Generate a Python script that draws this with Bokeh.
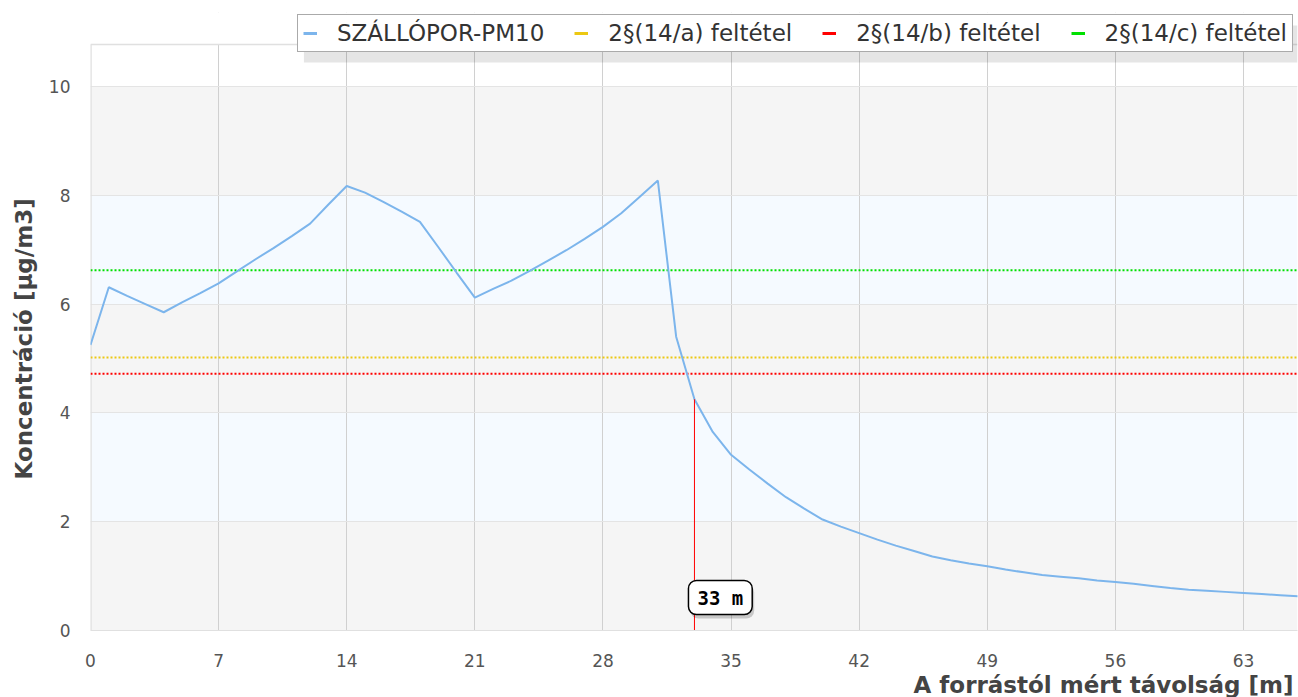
from bokeh.plotting import figure
from bokeh.models import (Range1d, FixedTicker, Legend, LegendItem, Label, BoxAnnotation, Title)
from bokeh.embed import file_html
from bokeh.resources import INLINE

# ---------------- data ----------------
dist = list(range(0, 67))
conc = [5.25, 6.31, 6.15, 6.00, 5.85, 6.03, 6.20, 6.38, 6.60, 6.82,
        7.03, 7.25, 7.48, 7.83, 8.17, 8.05, 7.88, 7.70, 7.51, 7.05,
        6.58, 6.12, 6.28, 6.43, 6.61, 6.80, 6.99, 7.20, 7.42, 7.67,
        7.97, 8.27, 5.40, 4.25, 3.65, 3.23, 2.96, 2.70, 2.45, 2.24,
        2.04, 1.91, 1.79, 1.67, 1.56, 1.46, 1.36, 1.29, 1.23, 1.18,
        1.12, 1.07, 1.02, 0.99, 0.96, 0.92, 0.89, 0.86, 0.82, 0.78,
        0.75, 0.73, 0.71, 0.69, 0.67, 0.65, 0.63]
series_name = "SZÁLLÓPOR-PM10"
limit_names = ["2§(14/a) feltétel", "2§(14/b) feltétel", "2§(14/c) feltétel"]
limit_values = [5.02, 4.72, 6.62]
cross_dist = 33
x_ticks = [0, 7, 14, 21, 28, 35, 42, 49, 56, 63]
y_ticks = [0, 2, 4, 6, 8, 10]
band_gray_bottom = [0, 4, 8]
band_gray_top = [2, 6, 10]
band_blue_bottom = [2, 6]
band_blue_top = [4, 8]
x_label = "A forrástól mért távolság [m]"
y_label = "Koncentráció [µg/m3]"

# ---------------- style ----------------
FONT = "DejaVu Sans"
line_color = "#7cb5ec"
limit_colors = ["#ecc812", "#ff0000", "#00e000"]
X_END = 65.95
Y_TOP = 10.77     # visible top of the plot area
Y_END = 11.36     # extra room above for the legend
BORDER = "#e0e0e0"

p = figure(width=1298, height=697, output_backend="svg", toolbar_location=None,
           x_range=Range1d(0, X_END), y_range=Range1d(0, Y_END),
           min_border_left=89, min_border_right=1, min_border_top=12,
           min_border_bottom=66)
p.background_fill_color = "white"
p.border_fill_color = "white"
p.outline_line_color = None

# bands
p.quad(left=0, right=X_END, bottom=band_gray_bottom, top=band_gray_top,
       fill_color="#f5f5f5", line_color=None, level="underlay")
p.quad(left=0, right=X_END, bottom=band_blue_bottom, top=band_blue_top,
       fill_color="#f5faff", line_color=None, level="underlay")

# grid
p.xgrid.ticker = FixedTicker(ticks=x_ticks)
p.ygrid.ticker = FixedTicker(ticks=y_ticks)
p.xgrid.grid_line_color = "#d0d0d0"
p.ygrid.grid_line_color = "#e4e4e4"

# white area above plot top (hides grid), borders
p.quad(left=0, right=X_END, bottom=Y_TOP, top=Y_END, fill_color="white",
       line_color=None)
p.line(x=[0, X_END], y=[Y_TOP, Y_TOP], line_color=BORDER, line_width=1.5)
p.line(x=[0, 0], y=[0, Y_TOP], line_color=BORDER, line_width=2.5)

# axes
for ax in (p.xaxis[0], p.yaxis[0]):
    ax.axis_line_color = None
    ax.major_tick_line_color = None
    ax.minor_tick_line_color = None
    ax.major_label_text_font = FONT
    ax.major_label_text_font_size = "17px"
    ax.major_label_text_color = "#555555"
p.xaxis.axis_line_color = BORDER
p.xaxis.ticker = FixedTicker(ticks=x_ticks)
p.yaxis.ticker = FixedTicker(ticks=y_ticks)
p.xaxis.major_label_standoff = 17
p.yaxis.major_label_standoff = 14

# y-axis title (offset from the bottom so it centres on the visible plot area)
p.add_layout(Title(text=y_label, align="left", text_font=FONT,
                   text_font_style="bold", text_font_size="23px",
                   text_color="#444444", standoff=17, offset=151), "left")

# x-axis title, right aligned
p.add_layout(Title(text=x_label, align="right", text_font=FONT,
                   text_font_style="bold", text_font_size="23px",
                   text_color="#444444", standoff=0, offset=4), "below")

# limit lines
limit_renderers = []
for name, val, col in zip(limit_names, limit_values, limit_colors):
    p.line(x=[dist[0], dist[-1]], y=[val, val], line_color=col,
           line_width=2, line_dash="2 2")
    # solid single-point twin (draws nothing) used only for the legend swatch
    r = p.line(x=[dist[0]], y=[val], line_color=col, line_width=3)
    limit_renderers.append(r)

# main curve
main_r = p.line(x=dist, y=conc, line_color=line_color, line_width=2)
main_leg = p.line(x=[dist[0]], y=[conc[0]], line_color=line_color, line_width=3)

# vertical marker
idx = dist.index(cross_dist)
p.segment(x0=[cross_dist], y0=[0], x1=[cross_dist], y1=[conc[idx]],
          line_color="#ff0000", line_width=1)

# marker label with shadow
lab_text = f"{cross_dist} m"
shadow = Label(x=cross_dist, y=0, x_offset=-4, y_offset=29, text=lab_text,
               text_font="DejaVu Sans Mono", text_font_style="bold",
               text_font_size="19px", text_color="rgba(0,0,0,0)",
               text_baseline="middle", text_align="left",
               background_fill_color="#000000", background_fill_alpha=0.18,
               border_radius=8, padding=(9, 6))
p.add_layout(shadow)
lab = Label(x=cross_dist, y=0, x_offset=-6, y_offset=33, text=lab_text,
            text_font="DejaVu Sans Mono", text_font_style="bold",
            text_font_size="19px", text_color="#000000",
            text_baseline="middle", text_align="left",
            background_fill_color="white", border_line_color="#000000",
            border_line_width=1.5, border_radius=8, padding=(9, 6))
p.add_layout(lab)

# legend shadow
p.add_layout(BoxAnnotation(left=11.66, right=X_END, top=11.12, bottom=10.44,
                           fill_color="#000000", fill_alpha=0.10,
                           line_color=None))

items = [LegendItem(label=series_name, renderers=[main_leg])]
for name, r in zip(limit_names, limit_renderers):
    items.append(LegendItem(label=name, renderers=[r]))
legend = Legend(items=items, orientation="horizontal", location=(207, 578),
                label_text_font=FONT, label_text_font_size="23px",
                label_text_color="#333333", glyph_width=14, glyph_height=22,
                label_standoff=20, spacing=30, padding=5, margin=0,
                label_height=24,
                border_line_color="#555555", border_line_width=1,
                background_fill_color="white", background_fill_alpha=1.0)
p.add_layout(legend)

open("out.html", "w").write(file_html(p, INLINE))
